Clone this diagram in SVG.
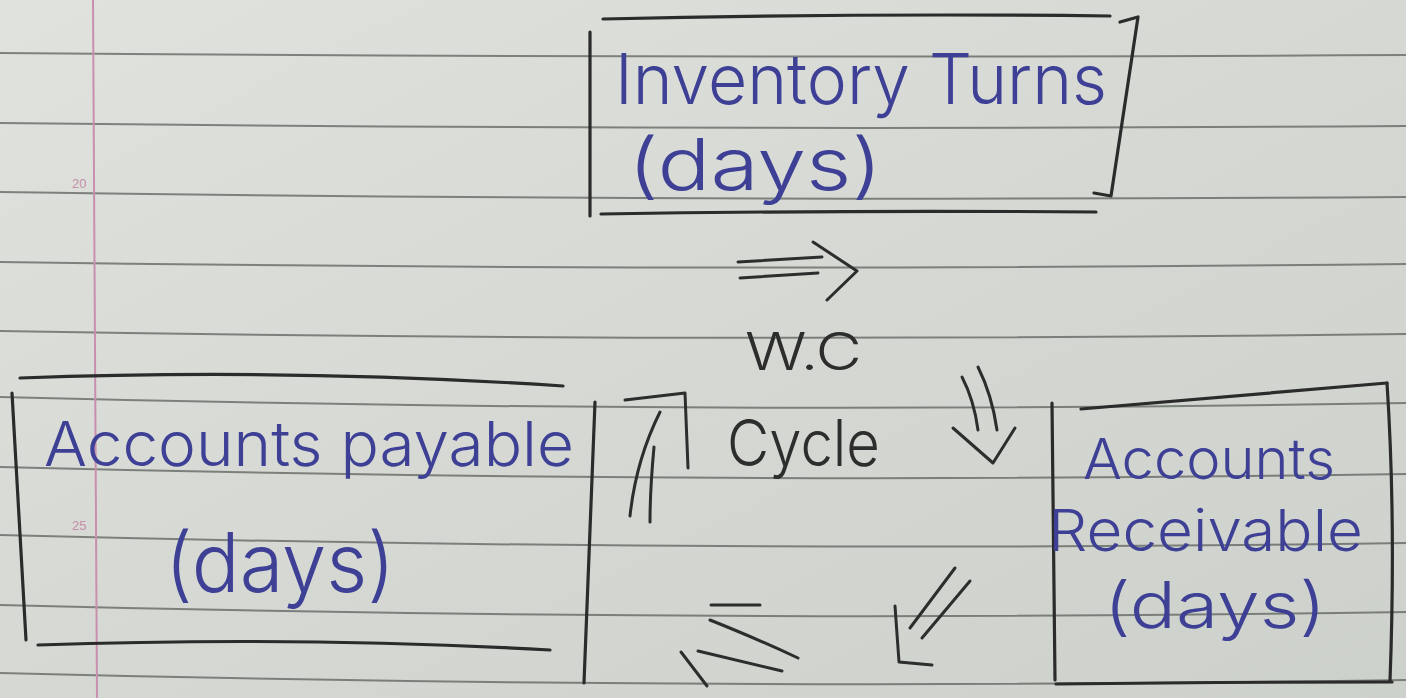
<svg xmlns="http://www.w3.org/2000/svg" width="1406" height="698" viewBox="0 0 1406 698">
  <defs>
    <linearGradient id="paper" x1="0" y1="0" x2="1" y2="1">
      <stop offset="0" stop-color="#dfe2dd"/>
      <stop offset="0.5" stop-color="#d6d9d3"/>
      <stop offset="1" stop-color="#cdd1cb"/>
    </linearGradient>
    <style>
      .rule { fill: none; stroke: #5e625e; stroke-width: 2; opacity: 0.75; }
      .margin { fill: none; stroke: #c98fae; stroke-width: 2; }
      .mnum { font-family: "Liberation Sans", Arial, sans-serif; font-size: 13px; fill: #c58fab; }
      .box { fill: none; stroke: #2a2b2a; stroke-width: 3.2; stroke-linecap: round; stroke-linejoin: round; }
      .ink { fill: none; stroke: #2c2d2c; stroke-width: 3; stroke-linecap: round; stroke-linejoin: round; }
      .blue { font-family: Inter, "Open Sans", "Liberation Sans", sans-serif; font-weight: 300; fill: #3e4095; }
      .dark { font-family: Inter, "Open Sans", "Liberation Sans", sans-serif; font-weight: 300; fill: #2c2d2c; }
    </style>
  </defs>

  <!-- paper -->
  <rect x="0" y="0" width="1406" height="698" fill="url(#paper)"/>
  <g id="ruling">
    <path class="rule" d="M0,53 Q700,59 1406,55"/>
    <path class="rule" d="M0,123 Q700,131 1406,126"/>
    <path class="rule" d="M0,192 Q700,202 1406,197"/>
    <path class="rule" d="M0,262 Q700,272 1406,264"/>
    <path class="rule" d="M0,331 Q700,343 1406,334"/>
    <path class="rule" d="M0,397 Q700,415 1406,403"/>
    <path class="rule" d="M0,467 Q700,485 1406,474"/>
    <path class="rule" d="M0,535 Q700,553 1406,543"/>
    <path class="rule" d="M0,605 Q700,623 1406,612"/>
    <path class="rule" d="M0,673 Q700,691 1406,680"/>
    <path class="margin" d="M93,0 L97,698"/>
    <text class="mnum" x="72" y="188">20</text>
    <text class="mnum" x="72" y="530">25</text>
  </g>

  <!-- nodes -->
  <g id="node-inventory">
    <path class="box" d="M603,19 Q860,13 1110,16"/>
    <path class="box" d="M590,32 L590,216"/>
    <path class="box" d="M601,214 Q850,210 1096,212"/>
    <path class="box" d="M1120,22 L1138,17 L1111,196 L1094,193"/>
    <text class="blue" x="615" y="104" font-size="70" textLength="492" lengthAdjust="spacingAndGlyphs">Inventory Turns</text>
    <text class="blue" x="628" y="190" font-size="72" textLength="254" lengthAdjust="spacingAndGlyphs">(days)</text>
  </g>

  <g id="node-payable">
    <path class="box" d="M20,378 Q290,368 563,386"/>
    <path class="box" d="M12,393 L26,640"/>
    <path class="box" d="M38,645 Q300,636 550,650"/>
    <path class="box" d="M595,402 L584,683"/>
    <text class="blue" x="44" y="466" font-size="62" textLength="530" lengthAdjust="spacingAndGlyphs">Accounts payable</text>
    <text class="blue" x="165" y="592" font-size="82" textLength="230" lengthAdjust="spacingAndGlyphs">(days)</text>
  </g>

  <g id="node-receivable">
    <path class="box" d="M1081,409 Q1230,396 1387,383"/>
    <path class="box" d="M1387,383 Q1396,520 1390,681"/>
    <path class="box" d="M1052,403 L1055,680"/>
    <path class="box" d="M1056,684 Q1220,682 1392,682"/>
    <text class="blue" x="1083" y="479" font-size="56" textLength="252" lengthAdjust="spacingAndGlyphs">Accounts</text>
    <text class="blue" x="1048" y="551" font-size="58" textLength="315" lengthAdjust="spacingAndGlyphs">Receivable</text>
    <text class="blue" x="1104" y="628" font-size="64" textLength="222" lengthAdjust="spacingAndGlyphs">(days)</text>
  </g>

  <g id="node-wc">
    <text class="dark" x="745" y="370" font-size="52" textLength="117" lengthAdjust="spacingAndGlyphs">W.C</text>
    <text class="dark" x="727" y="466" font-size="64" textLength="153" lengthAdjust="spacingAndGlyphs">Cycle</text>
  </g>

  <!-- connectors -->
  <g id="connectors">
    <!-- inventory to receivable (right double arrow) -->
    <g id="arrow-inv-rec">
      <path class="ink" d="M738,262 L822,257"/>
      <path class="ink" d="M740,278 L818,273"/>
      <path class="ink" d="M813,242 L857,271 L827,300"/>
    </g>
    <!-- down double arrow -->
    <g id="arrow-down">
      <path class="ink" d="M962,377 Q974,400 978,430"/>
      <path class="ink" d="M978,367 Q992,395 997,430"/>
      <path class="ink" d="M953,428 L993,463 L1015,428"/>
    </g>
    <!-- diagonal down-left double arrow -->
    <g id="arrow-diag">
      <path class="ink" d="M955,568 L910,628"/>
      <path class="ink" d="M970,581 L922,638"/>
      <path class="ink" d="M895,606 L899,662 L932,665"/>
    </g>
    <!-- bottom left double arrow -->
    <g id="arrow-left">
      <path class="ink" d="M711,605 L760,605"/>
      <path class="ink" d="M710,620 Q760,640 798,658"/>
      <path class="ink" d="M698,651 L782,671"/>
      <path class="ink" d="M681,652 L707,686"/>
    </g>
    <!-- up double arrow -->
    <g id="arrow-up">
      <path class="ink" d="M660,412 Q636,460 630,516"/>
      <path class="ink" d="M654,447 Q650,490 650,522"/>
      <path class="ink" d="M625,400 L685,393 L688,468"/>
    </g>
  </g>
</svg>
